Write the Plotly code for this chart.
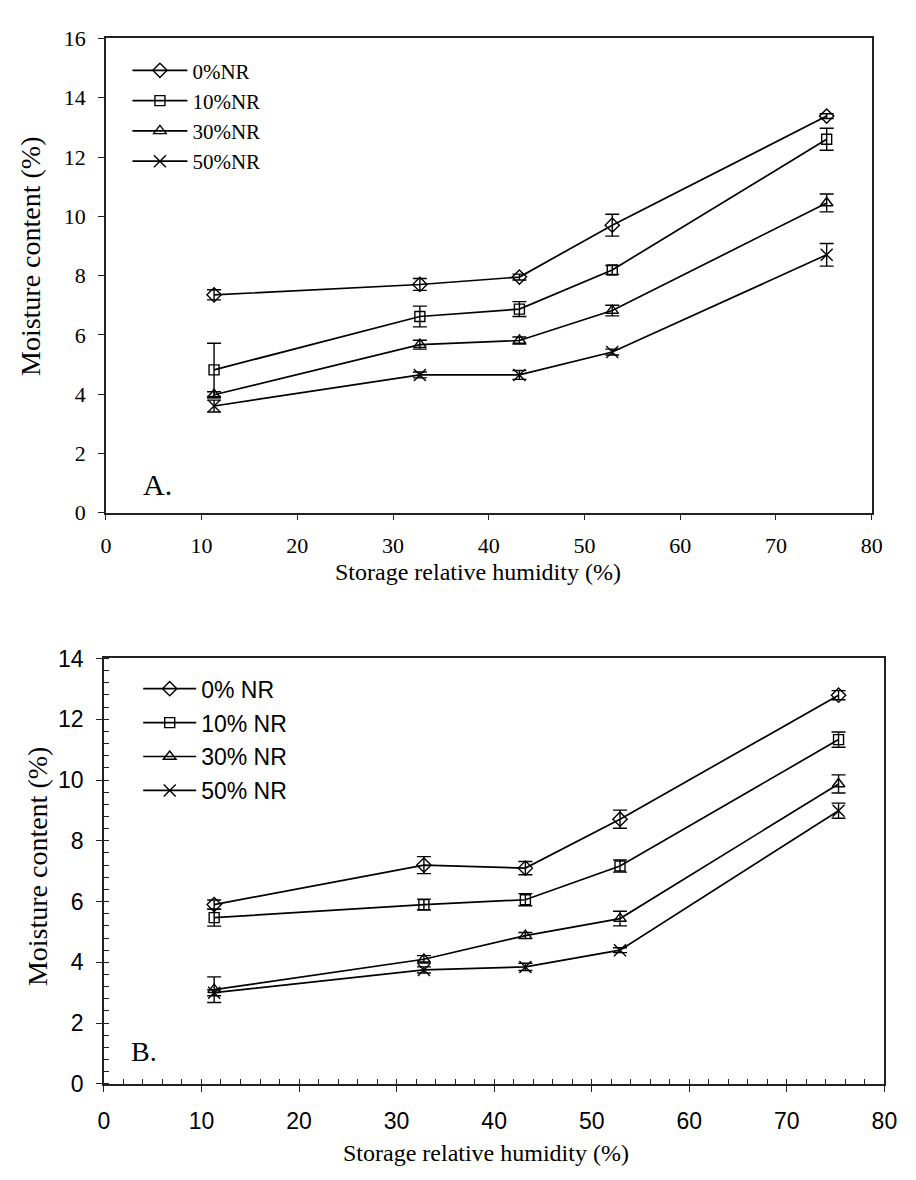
import plotly.graph_objects as go

# ---------------- data ----------------
rh = [11.3, 32.8, 43.2, 52.9, 75.3]
series_names = ["0%NR", "10%NR", "30%NR", "50%NR"]
series_names_b = ["0% NR", "10% NR", "30% NR", "50% NR"]

# Panel A
a_nr0 = [7.35, 7.70, 7.95, 9.70, 13.38]
a_nr0_err = [0.17, 0.20, 0.10, 0.37, 0.08]
a_nr10 = [4.82, 6.62, 6.87, 8.19, 12.60]
a_nr10_err = [0.90, 0.35, 0.25, 0.15, 0.37]
a_nr30 = [3.98, 5.67, 5.81, 6.82, 10.45]
a_nr30_err = [0.10, 0.15, 0.12, 0.18, 0.30]
a_nr50 = [3.60, 4.65, 4.65, 5.42, 8.70]
a_nr50_err = [0.20, 0.10, 0.15, 0.10, 0.38]

# Panel B
b_nr0 = [5.90, 7.20, 7.10, 8.71, 12.79]
b_nr0_err = [0.15, 0.28, 0.22, 0.30, 0.15]
b_nr10 = [5.47, 5.90, 6.06, 7.17, 11.33]
b_nr10_err = [0.28, 0.18, 0.20, 0.20, 0.25]
b_nr30 = [3.10, 4.10, 4.88, 5.44, 9.87]
b_nr30_err = [0.42, 0.12, 0.10, 0.24, 0.30]
b_nr50 = [3.00, 3.75, 3.85, 4.40, 8.99]
b_nr50_err = [0.10, 0.10, 0.12, 0.08, 0.25]

symbols = ["diamond-open", "square-open", "triangle-up-open", "x-thin-open"]
marker_sizes = [11, 10, 11, 12]

W, H = 916, 1180
SERIF = "Liberation Serif, Times New Roman, serif"
SANS = "Liberation Sans, Arial, sans-serif"

fig = go.Figure()

a_vals = [(a_nr0, a_nr0_err), (a_nr10, a_nr10_err), (a_nr30, a_nr30_err), (a_nr50, a_nr50_err)]
b_vals = [(b_nr0, b_nr0_err), (b_nr10, b_nr10_err), (b_nr30, b_nr30_err), (b_nr50, b_nr50_err)]

for i, (vals, err) in enumerate(a_vals):
    fig.add_trace(go.Scatter(
        x=rh, y=vals, name=series_names[i], mode="lines+markers",
        xaxis="x", yaxis="y", legend="legend", legendgroup=f"a{i}",
        line=dict(color="black", width=1.7),
        marker=dict(symbol=symbols[i], size=marker_sizes[i], color="black",
                    line=dict(color="black", width=1.4)),
        error_y=dict(type="data", array=err, visible=True, color="black",
                     thickness=1.4, width=7),
    ))

for i, (vals, err) in enumerate(b_vals):
    fig.add_trace(go.Scatter(
        x=rh, y=vals, name=series_names_b[i], mode="lines+markers",
        xaxis="x2", yaxis="y2", legend="legend2", legendgroup=f"b{i}",
        line=dict(color="black", width=1.7),
        marker=dict(symbol=symbols[i], size=marker_sizes[i], color="black",
                    line=dict(color="black", width=1.4)),
        error_y=dict(type="data", array=err, visible=True, color="black",
                     thickness=1.4, width=7),
    ))

def px_x(p):
    return p / W

def px_y(p):
    return 1 - p / H

axis_common = dict(showline=True, linecolor="#222", linewidth=1.5, mirror=True,
                   showgrid=False, zeroline=False, ticks="outside", ticklen=6,
                   tickcolor="#222", tickwidth=1.3)

fig.update_layout(
    width=W, height=H,
    margin=dict(l=0, r=0, t=0, b=0),
    paper_bgcolor="white", plot_bgcolor="white",
    showlegend=True,
    xaxis=dict(domain=[px_x(102), px_x(884)], range=[0, 80], dtick=10, tick0=0,
               anchor="y", ticklabelstandoff=6,
               tickfont=dict(family=SERIF, size=22, color="black"),
               **axis_common),
    yaxis=dict(domain=[px_y(511), px_y(26)], range=[0, 16], dtick=2, tick0=0,
               anchor="x", ticklabelstandoff=8,
               tickfont=dict(family=SERIF, size=22, color="black"),
               **axis_common),
    xaxis2=dict(domain=[px_x(100), px_x(897)], range=[0, 80], dtick=10, tick0=0,
                anchor="y2", ticklabelstandoff=10,
                tickfont=dict(family=SANS, size=23, color="black"),
                minor=dict(dtick=2, ticks="inside", ticklen=5, tickcolor="#222",
                           tickwidth=1.1, showgrid=False),
                **axis_common),
    yaxis2=dict(domain=[px_y(1095), px_y(660)], range=[0, 14], dtick=2, tick0=0,
                anchor="x2", ticklabelstandoff=8,
                tickfont=dict(family=SANS, size=23, color="black"),
                minor=dict(dtick=0.4, ticks="inside", ticklen=5, tickcolor="#222",
                           tickwidth=1.1, showgrid=False),
                **axis_common),
    legend=dict(x=px_x(124), y=px_y(38), xanchor="left", yanchor="top",
                bgcolor="rgba(0,0,0,0)", borderwidth=0, tracegroupgap=0,
                itemwidth=55,
                font=dict(family=SERIF, size=21, color="black")),
    legend2=dict(x=px_x(135), y=px_y(669), xanchor="left", yanchor="top",
                 bgcolor="rgba(0,0,0,0)", borderwidth=0, tracegroupgap=1,
                 itemwidth=53,
                 font=dict(family=SANS, size=23, color="black")),
)

annotations = [
    dict(text="Moisture content (%)", x=px_x(25), y=px_y(248), textangle=-90,
         font=dict(family=SERIF, size=28, color="black")),
    dict(text="Storage relative humidity (%)", x=px_x(482), y=px_y(572),
         font=dict(family=SERIF, size=24, color="black")),
    dict(text="A.", x=px_x(155), y=px_y(482),
         font=dict(family=SERIF, size=30, color="black")),
    dict(text="Moisture content (%)", x=px_x(32), y=px_y(872), textangle=-90,
         font=dict(family=SERIF, size=28, color="black")),
    dict(text="Storage relative humidity (%)", x=px_x(490), y=px_y(1166),
         font=dict(family=SERIF, size=24, color="black")),
    dict(text="B.", x=px_x(141), y=px_y(1062),
         font=dict(family=SERIF, size=28, color="black")),
]
for a in annotations:
    a.update(xref="paper", yref="paper", showarrow=False, xanchor="center", yanchor="middle")
fig.update_layout(annotations=annotations)

fig.write_html("out.html")
